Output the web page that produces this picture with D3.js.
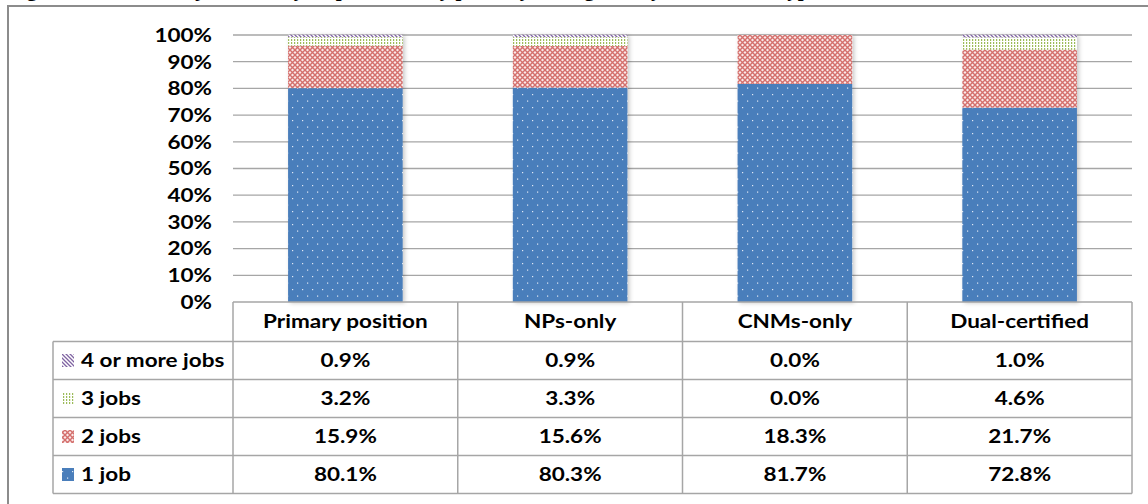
<!DOCTYPE html>
<html>
<head>
<meta charset="utf-8">
<script src="https://cdn.jsdelivr.net/npm/d3@7"></script>
<style>
  html, body { margin: 0; padding: 0; background: #fff; }
  svg { display: block; }
  text { font-family: Lato, "Open Sans", "Liberation Sans", sans-serif; font-weight: 700; fill: #000; }
</style>
</head>
<body>
<svg id="chart" width="1148" height="504"></svg>
<script>
// ---- data ----
const categories = ["Primary position", "NPs-only", "CNMs-only", "Dual-certified"];
const seriesNames = ["1 job", "2 jobs", "3 jobs", "4 or more jobs"];
const oneJob   = [80.1, 80.3, 81.7, 72.8];
const twoJobs  = [15.9, 15.6, 18.3, 21.7];
const threeJobs = [3.2, 3.3, 0.0, 4.6];
const fourPlus = [0.9, 0.9, 0.0, 1.0];
const yTicks = [0, 10, 20, 30, 40, 50, 60, 70, 80, 90, 100];
const titleText = "Figure 9. Number of jobs held by respondents, by primary setting and by certification type";

const seriesValues = [oneJob, twoJobs, threeJobs, fourPlus];

const svg = d3.select("#chart");
const W = 1148, H = 504;
const FS = "18px", SX = 1.25; // font size and horizontal stretch

// ---- patterns ----
const defs = svg.append("defs");
const pBlue = defs.append("pattern").attr("id", "pat0").attr("patternUnits", "userSpaceOnUse")
  .attr("width", 10).attr("height", 13);
pBlue.append("rect").attr("width", 10).attr("height", 13).attr("fill", "#4a7ebb");
pBlue.append("rect").attr("x", 2).attr("y", 3).attr("width", 1.2).attr("height", 1.2).attr("fill", "#dfe8f4");
pBlue.append("rect").attr("x", 7).attr("y", 9.5).attr("width", 1.2).attr("height", 1.2).attr("fill", "#dfe8f4");
const pRed = defs.append("pattern").attr("id", "pat1").attr("patternUnits", "userSpaceOnUse")
  .attr("width", 5).attr("height", 5);
pRed.append("rect").attr("width", 5).attr("height", 5).attr("fill", "#fbeaea");
pRed.append("path").attr("d", "M0,0 L5,5 M5,0 L0,5").attr("stroke", "#d46f6c").attr("stroke-width", 1.4);
const pGreen = defs.append("pattern").attr("id", "pat2").attr("patternUnits", "userSpaceOnUse")
  .attr("width", 3).attr("height", 3);
pGreen.append("rect").attr("width", 3).attr("height", 3).attr("fill", "#fff");
pGreen.append("rect").attr("x", 0).attr("y", 0).attr("width", 1.2).attr("height", 2).attr("fill", "#9bbb59");
const pPurple = defs.append("pattern").attr("id", "pat3").attr("patternUnits", "userSpaceOnUse")
  .attr("width", 4).attr("height", 4);
pPurple.append("rect").attr("width", 4).attr("height", 4).attr("fill", "#fff");
pPurple.append("path").attr("d", "M-1,-1 L5,5 M-1,3 L1,5 M3,-1 L5,1").attr("stroke", "#8064a2").attr("stroke-width", 1.3);

const shadow = defs.append("filter").attr("id", "shadow").attr("x", "-10%").attr("y", "-10%").attr("width", "130%").attr("height", "130%");
shadow.append("feDropShadow").attr("dx", 2).attr("dy", 1).attr("stdDeviation", 2).attr("flood-color", "#000").attr("flood-opacity", 0.22);

// ---- title (clipped at top, as in the reference) ----
svg.append("text").attr("x", 8).attr("y", -4)
  .style("font-family", "'Liberation Serif', serif").style("font-size", "21px")
  .text(titleText);

// ---- frame ----
svg.append("path").attr("d", `M8,${H + 5} V6 H${W + 5}`).attr("fill", "none").attr("stroke", "#8c8c8c").attr("stroke-width", 2);

// ---- scales ----
const x0 = 233, x1 = 1132, yTop = 35, yBot = 302;
const x = d3.scaleBand().domain(categories).range([x0, x1]).paddingInner(0.49).paddingOuter(0.245);
const xCol = d3.scaleBand().domain(categories).range([x0, x1]);
const y = d3.scaleLinear().domain([0, 100]).range([yBot, yTop]);

// gridlines
svg.append("g").selectAll("line").data(yTicks.filter(t => t > 0)).join("line")
  .attr("x1", x0).attr("x2", x1).attr("y1", d => y(d)).attr("y2", d => y(d))
  .attr("stroke", "#a6a6a6").attr("stroke-width", 1.3);

// y axis labels
const yAxis = d3.axisLeft(y).tickValues(yTicks).tickFormat(d => d + "%").tickSize(0).tickPadding(0);
const gy = svg.append("g").attr("transform", `translate(212,0)`).call(yAxis);
gy.select(".domain").remove();
gy.selectAll("text").style("font-family", "Lato, sans-serif").style("font-weight", 700).style("font-size", FS)
  .attr("x", 0).attr("dy", "0.35em").attr("transform", `scale(${SX},1)`);

// stacked bars
const rows = categories.map((c, i) => {
  const o = { cat: c };
  seriesNames.forEach((s, k) => o[s] = seriesValues[k][i]);
  return o;
});
const stack = d3.stack().keys(seriesNames)(rows);
const gb = svg.append("g").attr("filter", "url(#shadow)");
stack.forEach((layer, k) => {
  gb.append("g").selectAll("rect").data(layer).join("rect")
    .attr("x", d => x(d.data.cat)).attr("width", x.bandwidth())
    .attr("y", d => y(d[1])).attr("height", d => Math.max(0, y(d[0]) - y(d[1])))
    .attr("fill", `url(#pat${k})`);
});

// ---- data table ----
const tableTop = yBot, headerH = 39.5, rowH = 38;
const legendX0 = 53;
const gridColor = "#a6a6a6";
const gt = svg.append("g");
const rowOrder = [3, 2, 1, 0];
const hLines = [tableTop, tableTop + headerH];
for (let r = 1; r <= 4; r++) hLines.push(tableTop + headerH + r * rowH);
hLines.forEach((hy, i) => {
  gt.append("line").attr("x1", i === 0 ? x0 : legendX0).attr("x2", x1).attr("y1", hy).attr("y2", hy)
    .attr("stroke", gridColor).attr("stroke-width", 1.5);
});
const vxs = [x0].concat(categories.map(c => xCol(c) + xCol.bandwidth()));
vxs.forEach(vx => gt.append("line").attr("x1", vx).attr("x2", vx).attr("y1", tableTop).attr("y2", hLines[5])
  .attr("stroke", gridColor).attr("stroke-width", 1.5));
gt.append("line").attr("x1", legendX0).attr("x2", legendX0).attr("y1", hLines[1]).attr("y2", hLines[5])
  .attr("stroke", gridColor).attr("stroke-width", 1.5);

function label(g, tx, ty, anchor, str) {
  g.append("text").attr("transform", `translate(${tx},${ty}) scale(${SX},1)`)
    .attr("text-anchor", anchor).attr("dy", "0.35em").style("font-size", FS).text(str);
}

categories.forEach(c => label(gt, xCol(c) + xCol.bandwidth() / 2, tableTop + headerH / 2, "middle", c));

rowOrder.forEach((k, r) => {
  const cy = hLines[1] + r * rowH + rowH / 2;
  gt.append("rect").attr("x", 62).attr("y", cy - 6.5).attr("width", 12).attr("height", 13)
    .attr("fill", `url(#pat${k})`);
  label(gt, 81, cy, "start", seriesNames[k]);
  categories.forEach((c, i) => {
    label(gt, xCol(c) + xCol.bandwidth() / 2, cy, "middle", seriesValues[k][i].toFixed(1) + "%");
  });
});
</script>
</body>
</html>
